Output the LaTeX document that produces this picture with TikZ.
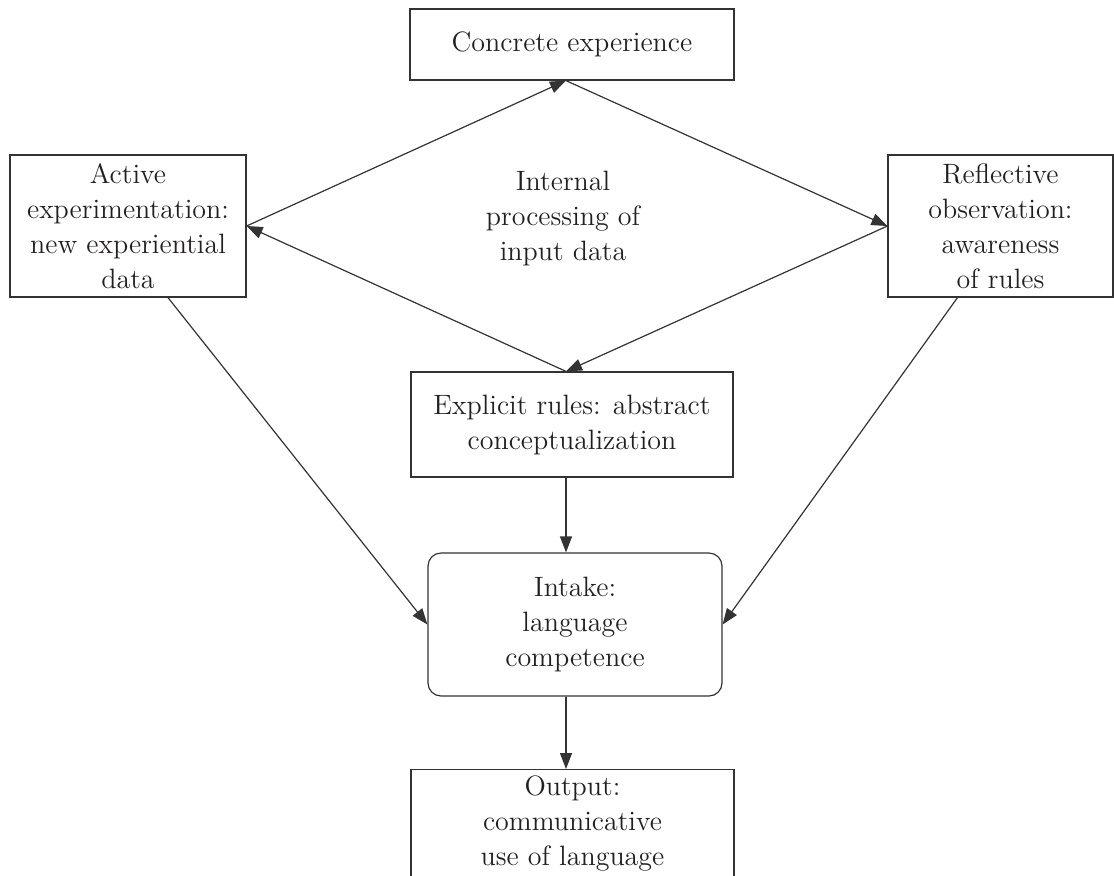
\documentclass[tikz,border=0pt]{standalone}
\usetikzlibrary{arrows.meta}
\definecolor{ink}{HTML}{231F20}
\definecolor{rule}{HTML}{333333}
\tikzset{
  box/.style={draw=rule, line width=0.6pt, align=center, inner sep=0pt,
    text=ink, font=\fontsize{14}{17.5}\selectfont},
  arr/.style={draw=rule, line width=0.6pt,
    -{Triangle[length=8pt,width=6pt]}},
  note/.style={align=center, text=ink, font=\fontsize{14}{17.5}\selectfont}
}
\begin{document}
\begin{tikzpicture}[x=0.5pt, y=-0.5pt]
  \useasboundingbox (0,0) rectangle (1114,875);

  % vertical line along which the central arrows run
  \coordinate (axis) at (566,0);

  \node[box, minimum width=162pt, minimum height=35.5pt] (ce) at (572,44.5)
    {Concrete experience};
  \node[box, minimum width=118pt, minimum height=71pt] (ae) at (128,226)
    {Active\\experimentation:\\new experiential\\data};
  \node[box, minimum width=112.5pt, minimum height=71pt] (ro) at (1000.5,226)
    {Reflective\\observation:\\awareness\\of rules};
  \node[note] (mid) at (563,218)
    {Internal\\processing of\\input data};
  \node[box, minimum width=161pt, minimum height=52.5pt] (ex) at (572,424.5)
    {Explicit rules: abstract\\conceptualization};
  \node[box, rounded corners=6.5pt, minimum width=147pt, minimum height=71.5pt]
    (in) at (575,624.5)
    {Intake:\\language\\competence};
  \node[box, anchor=north, minimum width=161.5pt, minimum height=71pt,
    inner ysep=3pt, text depth=0pt] (out) at (572.5,769)
    {Output:\\communicative\\use of language\\[12pt]};

  % learning cycle
  \draw[arr] (ae.east) -- (ce.south -| axis);
  \draw[arr] (ce.south -| axis) -- (ro.west);
  \draw[arr] (ro.west) -- (ex.north -| axis);
  \draw[arr] (ex.north -| axis) -- (ae.east);

  % routes into intake and output
  \draw[arr] ([xshift=20pt]ae.south) -- (in.west);
  \draw[arr] ([xshift=-21.5pt]ro.south) -- (in.east);
  \draw[arr] (ex.south -| axis) -- (in.north -| axis);
  \draw[arr] (in.south -| axis) -- (out.north -| axis);
\end{tikzpicture}
\end{document}
